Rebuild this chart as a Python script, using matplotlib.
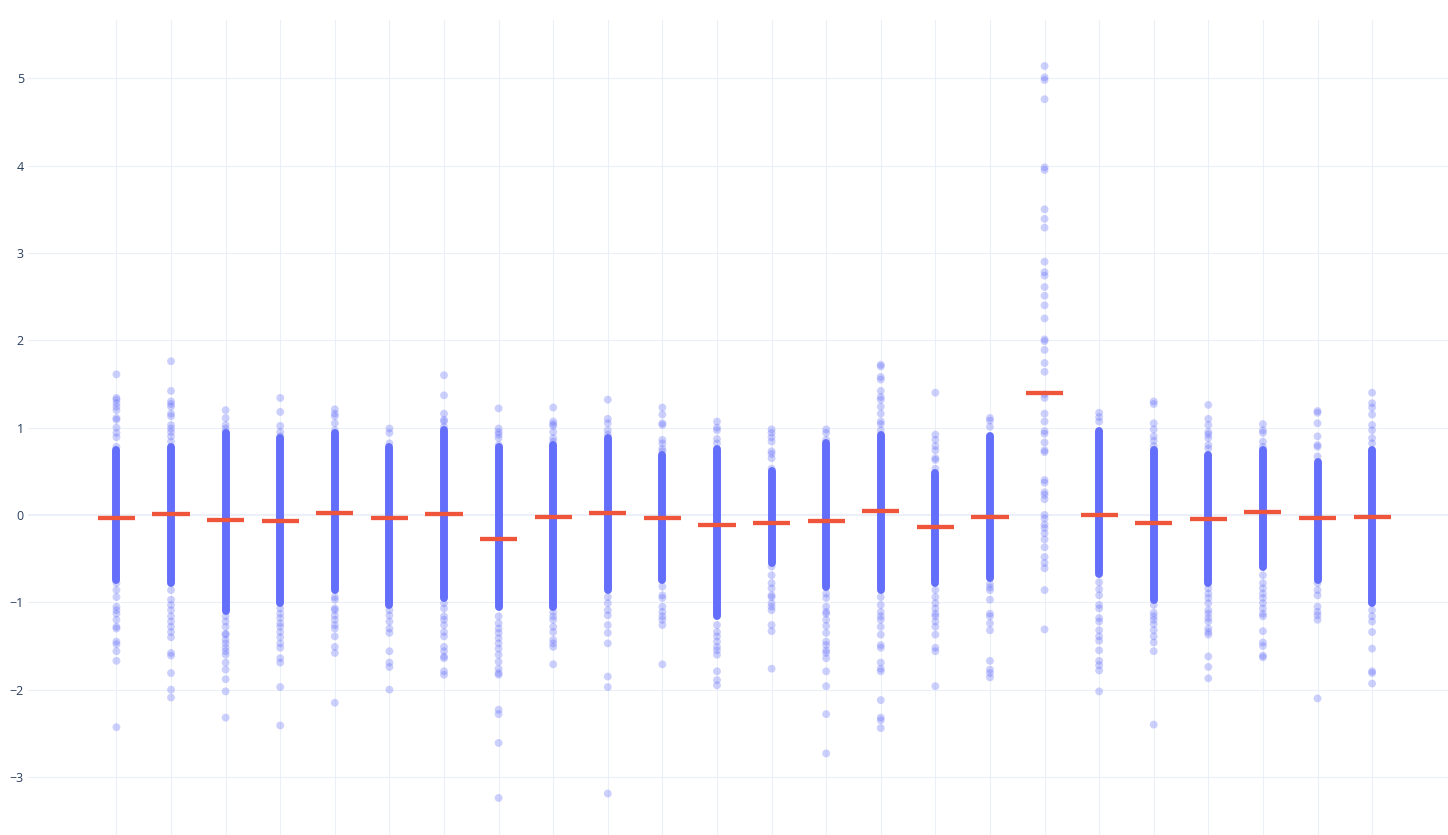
import matplotlib
matplotlib.use("Agg")
import matplotlib.pyplot as plt

# mean value of each group (red bars)
means = [-0.03, 0.01, -0.06, -0.065, 0.02, -0.03, 0.01, -0.275, -0.02, 0.02, -0.04, -0.12,
         -0.09, -0.07, 0.05, -0.14, -0.02, 1.40, 0.00, -0.09, -0.05, 0.03, -0.03, -0.02]

# extent of the dense (saturated) part of each group, None = no dense part
core_lo = [-0.74, -0.78, -1.10, -1.01, -0.86, -1.03, -0.95, -1.05, -1.05, -0.86, -0.74, -1.16,
           -0.55, -0.82, -0.86, -0.78, -0.72, None, -0.68, -0.97, -0.78, -0.59, -0.74, -1.01]
core_hi = [0.74, 0.78, 0.94, 0.88, 0.94, 0.78, 0.97, 0.78, 0.80, 0.88, 0.69, 0.76,
           0.50, 0.82, 0.92, 0.48, 0.90, None, 0.96, 0.74, 0.69, 0.74, 0.61, 0.74]

# individually visible points of each group
points = [
    [1.61, 1.34, 1.32, 1.28, 1.24, 1.20, 1.11, 1.09, 1.00, 0.94, 0.89, 0.78, -0.78, -0.86, -0.94,
     -1.05, -1.09, -1.13, -1.20, -1.28, -1.30, -1.45, -1.48, -1.56, -1.67, -2.43],
    [1.76, 1.42, 1.30, 1.27, 1.24, 1.16, 1.13, 1.03, 0.99, 0.95, 0.90, 0.84, -0.86, -0.97, -1.03,
     -1.09, -1.16, -1.22, -1.28, -1.34, -1.40, -1.58, -1.61, -1.81, -2.00, -2.09],
    [1.20, 1.11, 1.03, 0.99, 0.95, -1.16, -1.22, -1.28, -1.36, -1.37, -1.43, -1.47, -1.52, -1.56,
     -1.60, -1.69, -1.77, -1.88, -2.02, -2.32],
    [1.34, 1.18, 1.02, 0.95, 0.90, -1.07, -1.13, -1.18, -1.24, -1.28, -1.34, -1.40, -1.47, -1.52,
     -1.64, -1.69, -1.97, -2.41],
    [1.21, 1.16, 1.13, 1.05, 0.97, -0.94, -0.97, -1.07, -1.09, -1.15, -1.20, -1.26, -1.30, -1.39,
     -1.51, -1.58, -2.15],
    [0.99, 0.94, 0.82, -1.09, -1.15, -1.22, -1.30, -1.35, -1.56, -1.69, -1.74, -2.00],
    [1.60, 1.37, 1.16, 1.09, 1.07, 1.01, -1.01, -1.07, -1.16, -1.20, -1.26, -1.34, -1.39, -1.51,
     -1.56, -1.62, -1.64, -1.79, -1.83],
    [1.22, 0.99, 0.95, 0.92, 0.88, 0.80, -1.16, -1.24, -1.30, -1.35, -1.41, -1.47, -1.53, -1.60,
     -1.68, -1.76, -1.81, -1.83, -2.23, -2.28, -2.61, -3.24],
    [1.23, 1.07, 1.04, 1.02, 0.95, 0.88, 0.84, -1.11, -1.16, -1.20, -1.28, -1.34, -1.43, -1.47,
     -1.51, -1.71],
    [1.32, 1.10, 1.05, 0.97, 0.92, -0.94, -1.01, -1.09, -1.15, -1.26, -1.35, -1.47, -1.85, -1.97,
     -3.19],
    [1.23, 1.15, 1.05, 1.03, 0.86, 0.82, 0.76, 0.73, -0.82, -0.92, -0.95, -1.05, -1.11, -1.16,
     -1.20, -1.26, -1.71],
    [1.07, 1.00, 0.97, 0.87, 0.82, -1.26, -1.34, -1.39, -1.45, -1.51, -1.55, -1.60, -1.79, -1.89,
     -1.95],
    [0.98, 0.94, 0.89, 0.84, 0.73, 0.70, 0.65, 0.53, -0.59, -0.69, -0.78, -0.84, -0.92, -0.94,
     -1.01, -1.05, -1.09, -1.26, -1.33, -1.76],
    [0.98, 0.94, 0.86, -0.90, -0.95, -1.05, -1.11, -1.13, -1.20, -1.27, -1.35, -1.45, -1.49, -1.55,
     -1.58, -1.64, -1.79, -1.96, -2.28, -2.73],
    [1.72, 1.70, 1.58, 1.55, 1.42, 1.35, 1.32, 1.24, 1.16, 1.07, 1.04, 0.97, -0.94, -1.03, -1.11,
     -1.16, -1.20, -1.28, -1.37, -1.49, -1.52, -1.69, -1.76, -1.79, -2.12, -2.32, -2.35, -2.44],
    [1.40, 0.92, 0.86, 0.79, 0.74, 0.65, 0.63, 0.53, -0.86, -0.94, -1.01, -1.07, -1.13, -1.16,
     -1.22, -1.28, -1.37, -1.52, -1.56, -1.96],
    [1.11, 1.08, 1.01, -0.79, -0.83, -0.86, -0.97, -1.13, -1.16, -1.24, -1.32, -1.67, -1.77, -1.81,
     -1.86],
    [5.14, 5.01, 4.98, 4.76, 3.98, 3.95, 3.50, 3.39, 3.29, 2.90, 2.78, 2.74, 2.61, 2.51, 2.40, 2.25,
     2.01, 1.99, 1.89, 1.74, 1.64, 1.38, 1.34, 1.16, 1.07, 0.96, 0.93, 0.83, 0.74, 0.72, 0.40,
     0.37, 0.26, 0.23, 0.18, 0.00, -0.04, -0.11, -0.15, -0.21, -0.28, -0.37, -0.48, -0.55,
     -0.61, -0.86, -1.31],
    [1.17, 1.12, 1.07, -0.77, -0.85, -0.92, -1.03, -1.07, -1.18, -1.22, -1.32, -1.39, -1.44, -1.55,
     -1.67, -1.72, -1.78, -2.02],
    [1.30, 1.27, 1.05, 0.98, 0.90, 0.85, 0.79, -1.03, -1.12, -1.16, -1.20, -1.25, -1.32, -1.39,
     -1.46, -1.56, -2.40],
    [1.26, 1.10, 1.03, 0.95, 0.92, 0.88, 0.80, 0.76, -0.84, -0.90, -0.95, -1.01, -1.09, -1.13,
     -1.18, -1.22, -1.30, -1.34, -1.37, -1.62, -1.74, -1.87],
    [1.04, 0.97, 0.94, 0.84, 0.78, -0.69, -0.78, -0.84, -0.90, -0.95, -1.01, -1.07, -1.13, -1.16,
     -1.33, -1.46, -1.50, -1.61, -1.63],
    [1.19, 1.17, 1.05, 0.90, 0.80, 0.78, 0.67, -0.78, -0.86, -0.92, -1.05, -1.11, -1.15, -1.20,
     -2.10],
    [1.40, 1.28, 1.23, 1.15, 1.03, 0.97, 0.88, 0.82, -1.09, -1.16, -1.22, -1.34, -1.53, -1.79,
     -1.81, -1.93],
]

y_ticks = [-3, -2, -1, 0, 1, 2, 3, 4, 5]

BLUE = '#636efa'
RED = '#EF553B'
GRID = '#EBF0F8'


def main():
    plt.rcParams['font.family'] = ['Open Sans', 'DejaVu Sans']
    fig = plt.figure(figsize=(14.48, 8.35), dpi=100)
    ax = fig.add_axes([28 / 1448, 0, 1 - 28 / 1448, 1 - 20 / 835])

    groups = list(range(len(means)))

    # grid
    for g in groups:
        ax.axvline(g, color=GRID, lw=0.75, zorder=0)
    for t in y_ticks:
        ax.axhline(t, color=GRID, lw=1.5 if t == 0 else 0.75, zorder=0)

    # dense part of every column
    for g in groups:
        if core_lo[g] is None:
            continue
        ax.vlines(g, core_lo[g], core_hi[g], color=BLUE, lw=5.7,
                  capstyle='round', zorder=2)

    # individual points
    for g in groups:
        ax.scatter([g] * len(points[g]), points[g], s=32, color=BLUE, alpha=0.32,
                   edgecolors='none', zorder=3)

    # means
    ax.hlines(means, [g - 0.34 for g in groups], [g + 0.34 for g in groups],
              color=RED, lw=3.1, zorder=4)

    ax.set_xlim(-1.62, 24.39)
    ax.set_ylim(-3.664, 5.667)
    ax.set_xticks([])
    ax.set_yticks(y_ticks)
    ax.tick_params(axis='y', length=0, pad=3, labelsize=9, labelcolor='#2a3f5f')
    for s in ax.spines.values():
        s.set_visible(False)

    fig.savefig('out.png', dpi=100)


if __name__ == '__main__':
    main()
